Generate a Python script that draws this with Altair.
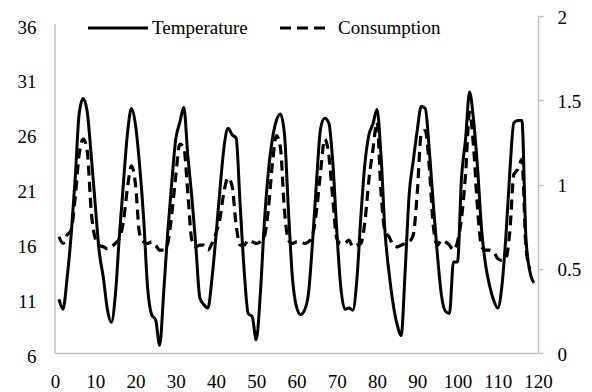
import altair as alt
import pandas as pd

# ---- data ----
x_temp = list(range(1, 120))
temperature = [
    10.9, 10.0, 12.8, 16.7, 21.8, 27.8, 29.2, 28.0, 24.0, 19.5,
    15.2, 12.9, 10.0, 8.8, 11.3, 16.7, 21.5, 26.0, 28.3, 26.8,
    23.2, 18.4, 12.0, 9.5, 9.0, 6.7, 11.5, 17.0, 21.5, 25.5,
    27.0, 28.4, 24.0, 20.2, 15.7, 11.0, 10.4, 10.1, 12.8, 16.7,
    21.0, 24.8, 26.5, 25.9, 25.6, 19.5, 13.5, 9.6, 9.3, 7.2,
    11.3, 17.8, 22.5, 25.5, 27.2, 27.8, 26.0, 19.0, 12.8, 10.2,
    9.5, 9.9, 11.5, 16.2, 21.8, 26.5, 27.4, 27.0, 23.5, 17.2,
    12.0, 10.0, 10.1, 9.9, 12.7, 18.5, 23.3, 25.9, 26.9, 28.2,
    24.0, 17.0, 13.3, 10.5, 8.6, 7.6, 13.5, 20.5, 23.5, 26.3,
    28.5, 28.3, 24.5, 19.5, 15.0, 11.3, 9.8, 9.6, 14.3, 14.3,
    22.0, 25.5, 29.8, 27.2, 22.8, 17.2, 14.0, 12.1, 10.8, 10.1,
    12.0, 16.5, 22.5, 27.0, 27.2, 27.2, 16.5, 13.4, 12.4,
]

x_cons = list(range(1, 119))
consumption = [
    0.69, 0.65, 0.70, 0.73, 0.92, 1.18, 1.27, 1.20, 0.84, 0.68,
    0.64, 0.63, 0.62, 0.63, 0.65, 0.68, 0.78, 0.98, 1.11, 1.00,
    0.71, 0.66, 0.65, 0.66, 0.64, 0.61, 0.61, 0.65, 0.82, 1.05,
    1.24, 1.22, 0.95, 0.67, 0.63, 0.64, 0.64, 0.61, 0.65, 0.71,
    0.80, 0.96, 1.04, 0.99, 0.76, 0.64, 0.64, 0.67, 0.66, 0.65,
    0.66, 0.69, 0.85, 1.12, 1.29, 1.22, 0.85, 0.67, 0.65, 0.66,
    0.66, 0.65, 0.66, 0.70, 0.85, 1.08, 1.27, 1.18, 0.92, 0.68,
    0.65, 0.65, 0.67, 0.63, 0.64, 0.65, 0.78, 1.03, 1.21, 1.37,
    0.95, 0.72, 0.69, 0.64, 0.63, 0.64, 0.65, 0.66, 0.70, 0.95,
    1.30, 1.32, 1.10, 0.75, 0.64, 0.67, 0.66, 0.64, 0.61, 0.66,
    0.80, 1.06, 1.43, 1.22, 0.85, 0.63, 0.61, 0.61, 0.60, 0.56,
    0.55, 0.56, 0.72, 1.06, 1.09, 1.15, 0.63, 0.50,
]

x_ticks = list(range(0, 121, 10))
left_ticks = [6, 11, 16, 21, 26, 31, 36]
right_ticks = [0, 0.5, 1, 1.5, 2]
series_names = ["Temperature", "Consumption"]

FONT = "Liberation Serif"
AXIS_GRAY = "#bfbfbf"

df_t = pd.DataFrame({"x": x_temp, "v": temperature})
df_c = pd.DataFrame({"x": x_cons, "Consumption": consumption})
df_axis = pd.DataFrame({"v": [left_ticks[0]], "v2": [left_ticks[-1]]})

x_enc = alt.X(
    "x:Q",
    scale=alt.Scale(domain=[0, 120], nice=False, zero=False),
    axis=alt.Axis(
        values=x_ticks, ticks=False, grid=False, title=None,
        domainColor=AXIS_GRAY, domainWidth=1.5,
        labelFont=FONT, labelFontSize=19, labelColor="black",
        labelPadding=19, labelFlush=False, labelOverlap=False,
    ),
)

left_axis = alt.Axis(
    orient="left", values=left_ticks, domain=False, ticks=False,
    grid=False, title=None, labelFont=FONT, labelFontSize=19,
    labelColor="black", labelPadding=19, labelOffset=3,
)
left_scale = alt.Scale(domain=[6, 36.73], nice=False, zero=False)

temp_line = alt.Chart(df_t).mark_line(
    color="black", strokeWidth=3, interpolate="monotone"
).encode(
    x=x_enc,
    y=alt.Y("v:Q", scale=left_scale, axis=left_axis),
)

left_axis_line = alt.Chart(df_axis).mark_rule(
    color=AXIS_GRAY, strokeWidth=1.5
).encode(
    x=alt.value(0),
    y=alt.Y("v:Q", scale=left_scale, axis=left_axis),
    y2="v2:Q",
)

left_layer = alt.layer(temp_line, left_axis_line)

cons_line = alt.Chart(df_c).mark_line(
    color="black", strokeWidth=3.2, strokeDash=[10, 6], interpolate="monotone"
).encode(
    x=x_enc,
    y=alt.Y(
        "Consumption:Q",
        scale=alt.Scale(domain=[0, 2], nice=False, zero=False),
        axis=alt.Axis(
            orient="right", values=right_ticks, format="~g", grid=False,
            title=None, domainColor=AXIS_GRAY, domainWidth=1.5,
            tickColor=AXIS_GRAY, tickSize=5, tickWidth=1.5,
            labelFont=FONT, labelFontSize=19, labelColor="black",
            labelPadding=14, labelOffset=1,
        ),
    ),
)

# legend (drawn manually at the top of the plot)
leg_solid = alt.Chart(pd.DataFrame({"n": [series_names[0]]})).mark_rule(
    color="black", strokeWidth=3
).encode(x=alt.value(33), x2=alt.value(93), y=alt.value(12))
leg_dash = alt.Chart(pd.DataFrame({"n": [series_names[1]]})).mark_rule(
    color="black", strokeWidth=3.2, strokeDash=[11, 6]
).encode(x=alt.value(225), x2=alt.value(270), y=alt.value(12))
leg_t1 = alt.Chart(pd.DataFrame({"n": [series_names[0]]})).mark_text(
    font=FONT, fontSize=19, color="black", align="left", baseline="middle"
).encode(text="n:N", x=alt.value(97), y=alt.value(12))
leg_t2 = alt.Chart(pd.DataFrame({"n": [series_names[1]]})).mark_text(
    font=FONT, fontSize=19, color="black", align="left", baseline="middle"
).encode(text="n:N", x=alt.value(283), y=alt.value(12))

chart = alt.layer(
    left_layer, cons_line, leg_solid, leg_dash, leg_t1, leg_t2
).resolve_scale(y="independent").properties(
    width=483, height=337,
    autosize=alt.AutoSizeParams(type="none"),
    padding={"left": 47, "top": 8, "right": 45, "bottom": 38},
    background="white",
).configure_view(stroke=None)

chart.save("out.html", embed_options={"renderer": "svg", "actions": False})
